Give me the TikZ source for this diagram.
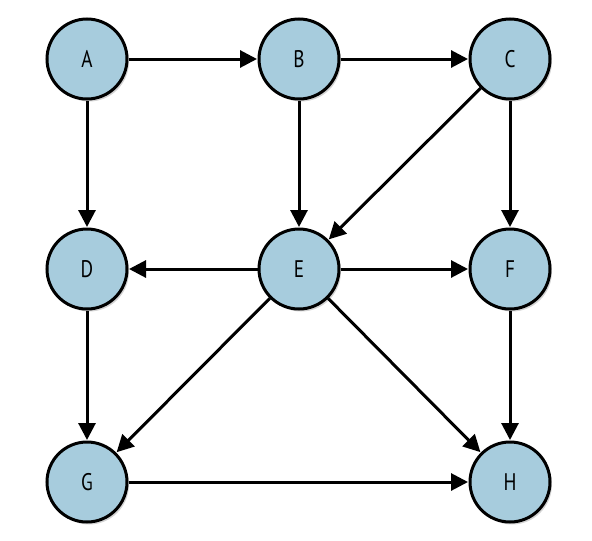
\documentclass[tikz,border=0pt]{standalone}
\usepackage{fontspec}
\setmainfont{PT Sans}[FakeStretch=0.8]
\usetikzlibrary{arrows.meta,shadows}
\definecolor{nodeblue}{RGB}{167,204,221}
\tikzset{
  vert/.style={circle, draw=black, line width=3pt, fill=nodeblue,
    minimum size=80pt, inner sep=0pt, font=\fontsize{24}{28}\selectfont,
    drop shadow={shadow xshift=2pt, shadow yshift=-2.5pt, opacity=0.35}},
  edge/.style={line width=3pt, -{Triangle[length=17pt,width=17pt]}, shorten >=0.5pt}
}
\begin{document}
\begin{tikzpicture}[x=1pt,y=-1pt]
\useasboundingbox (0,0) rectangle (592,541);
\node[vert] (A) at (87,59) {A};
\node[vert] (B) at (299,59) {B};
\node[vert] (C) at (510,59) {C};
\node[vert] (D) at (87,269) {D};
\node[vert] (E) at (299,269) {E};
\node[vert] (F) at (510,269) {F};
\node[vert] (G) at (87,482) {G};
\node[vert] (H) at (510,482) {H};
\draw[edge] (A) -- (B);
\draw[edge] (B) -- (C);
\draw[edge] (A) -- (D);
\draw[edge] (B) -- (E);
\draw[edge] (C) -- (E);
\draw[edge] (C) -- (F);
\draw[edge] (E) -- (D);
\draw[edge] (E) -- (F);
\draw[edge] (E) -- (G);
\draw[edge] (E) -- (H);
\draw[edge] (D) -- (G);
\draw[edge] (F) -- (H);
\draw[edge] (G) -- (H);
\end{tikzpicture}
\end{document}
